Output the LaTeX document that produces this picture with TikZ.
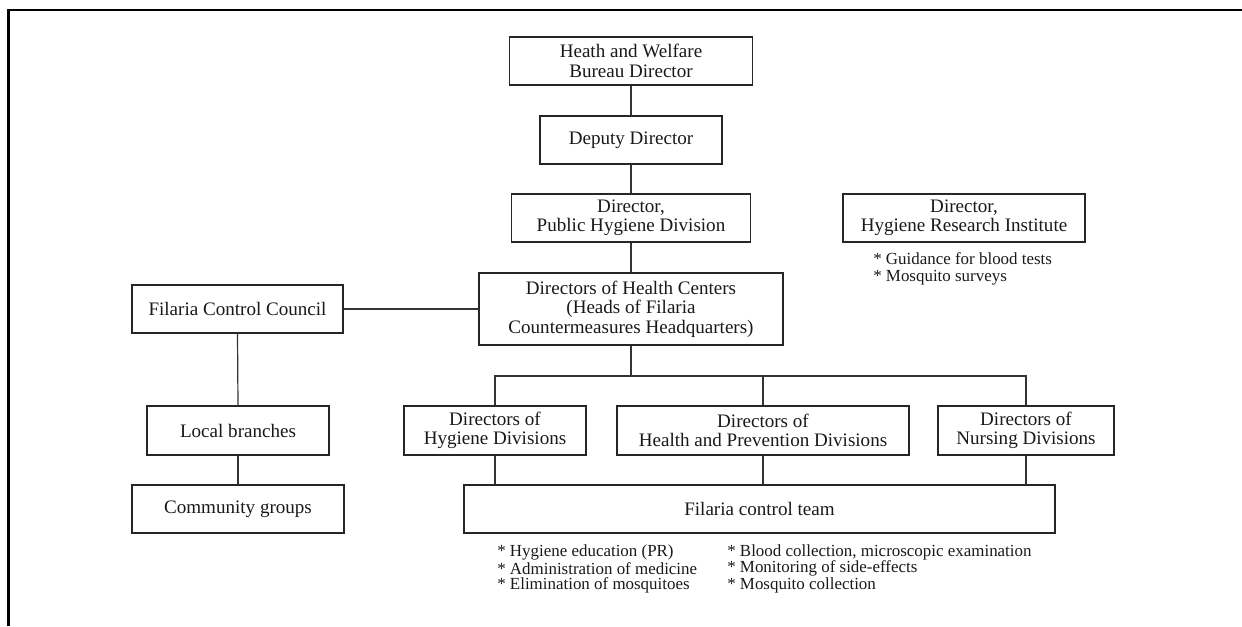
\documentclass[tikz,border=0pt]{standalone}
\usepackage{fontspec}
\setmainfont{Liberation Serif}
\begin{document}
\begin{tikzpicture}[x=0.75pt,y=-0.75pt,
  box/.style={draw=black!85, line width=0.9pt, inner sep=0pt, align=center, text=black!90,
    font=\fontsize{14.3}{14.5}\selectfont},
  conn/.style={draw=black!80, line width=0.9pt},
  note/.style={inner sep=0pt, anchor=west, text=black!90, font=\fontsize{12.7}{12.4}\selectfont},
  frame/.style={line width=1.9pt, draw=black}]
\useasboundingbox (0,0) rectangle (1242,626);
\draw[frame] (8.5,626) -- (8.5,10) -- (1242,10);

\node[box, minimum width=243*0.75pt, minimum height=48*0.75pt] (b1) at (631,61) {Heath and Welfare\\Bureau Director};
\node[box, minimum width=182*0.75pt, minimum height=48*0.75pt] (b2) at (631,140) {Deputy Director};
\node[box, minimum width=239*0.75pt, minimum height=48*0.75pt] (b3) at (631,218) {Director,\\Public Hygiene Division};
\node[box, minimum width=242*0.75pt, minimum height=48*0.75pt] (hri) at (964,218) {Director,\\Hygiene Research Institute};
\node[box, minimum width=304*0.75pt, minimum height=72*0.75pt] (b4) at (631,309) {Directors of Health Centers\\(Heads of Filaria\\Countermeasures Headquarters)};
\node[box, minimum width=211*0.75pt, minimum height=48*0.75pt] (fcc) at (237.5,309) {Filaria Control Council};
\node[box, minimum width=182*0.75pt, minimum height=49*0.75pt] (lb) at (238,430.5) {Local branches};
\node[box, minimum width=212*0.75pt, minimum height=48*0.75pt] (cg) at (238,509) {Community groups};
\node[box, minimum width=182*0.75pt, minimum height=49*0.75pt] (hyg) at (495,430.5) {Directors of\\Hygiene Divisions};
\node[box, minimum width=292*0.75pt, minimum height=49*0.75pt] (hp) at (763,430.5) {Directors of\\Health and Prevention Divisions};
\node[box, minimum width=176*0.75pt, minimum height=49*0.75pt] (nur) at (1026,430.5) {Directors of\\Nursing Divisions};
\node[box, minimum width=591*0.75pt, minimum height=48*0.75pt] (fct) at (759.5,509) {Filaria control team};

\coordinate (bus) at (631,376);

\draw[conn] (b1.south) -- (b2.north);
\draw[conn] (b2.south) -- (b3.north);
\draw[conn] (b3.south) -- (b4.north);
\draw[conn] (fcc.east) -- (b4.west);
\draw[conn] (fcc.south) -- (lb.north);
\draw[conn] (lb.south) -- (cg.north);
\draw[conn] (b4.south) -- (bus);
\draw[conn] (hyg.north) -- (hyg.north |- bus) -- (nur.north |- bus) -- (nur.north);
\draw[conn] (hp.north) -- (hp.north |- bus);
\draw[conn] (hyg.south) -- (hyg.south |- fct.north);
\draw[conn] (hp.south) -- (hp.south |- fct.north);
\draw[conn] (nur.south) -- (nur.south |- fct.north);

\node[note] (n1) at (873,259) {* Guidance for blood tests};
\node[note] (n2) at (873,278) {* Mosquito surveys};

\node[note] (t1) at (497,552) {* Hygiene education (PR)};
\node[note] (t2) at (497,568.5) {* Administration of medicine};
\node[note] (t3) at (497,585) {* Elimination of mosquitoes};
\node[note] (t4) at (727,552) {* Blood collection, microscopic examination};
\node[note] (t5) at (727,568.5) {* Monitoring of side-effects};
\node[note] (t6) at (727,585) {* Mosquito collection};
\end{tikzpicture}
\end{document}
